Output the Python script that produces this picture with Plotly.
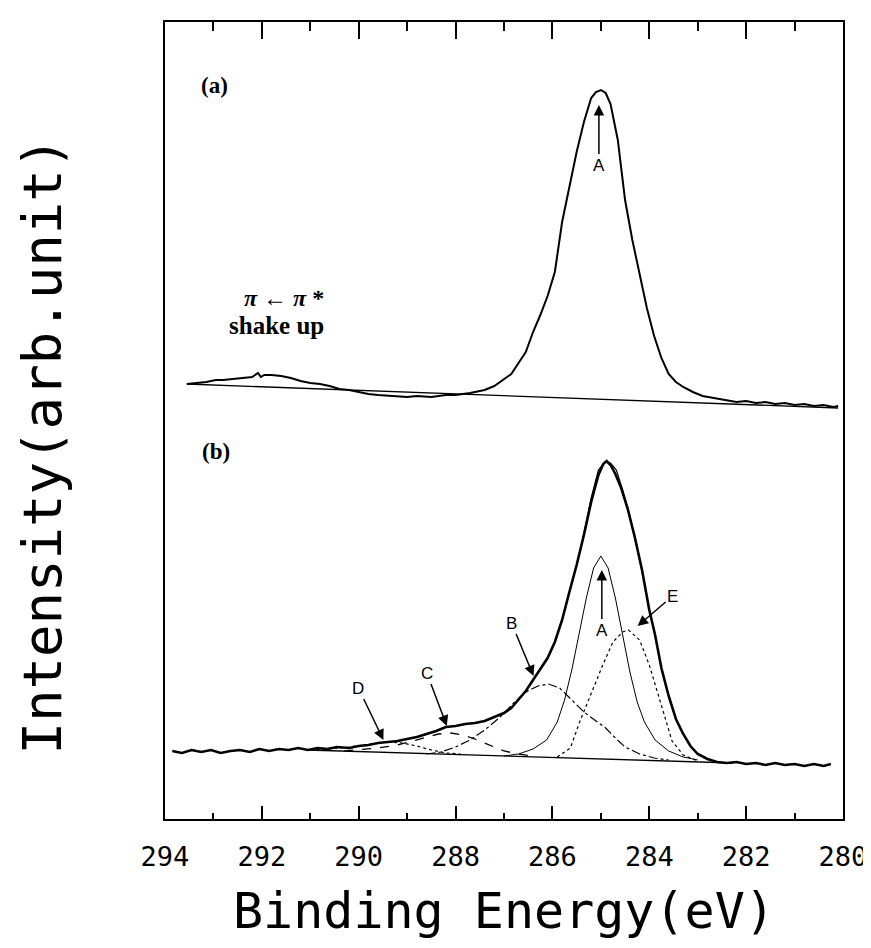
import plotly.graph_objects as go

# ---------------- data ----------------
# x: binding energy (eV); y: intensity (arbitrary units, offset per panel)

# panel (a) measured spectrum
a_energy = [293.55, 293.35, 293.15, 292.95, 292.8, 292.6, 292.4, 292.2, 292.08, 292.02,
            291.95, 291.8, 291.6, 291.4, 291.2, 291.0, 290.8, 290.6, 290.4, 290.2,
            290.0, 289.8, 289.6, 289.3, 289.0, 288.8, 288.5, 288.2, 288.0, 287.7,
            287.4, 287.2, 287.0, 286.85, 286.7, 286.55, 286.4, 286.25, 286.1, 285.95,
            285.8, 285.65, 285.5, 285.35, 285.2, 285.1, 285.0, 284.9, 284.8, 284.65,
            284.5, 284.35, 284.2, 284.05, 283.9, 283.75, 283.6, 283.45, 283.3, 283.1,
            282.9, 282.65, 282.4, 282.2, 282.0, 281.8, 281.6, 281.4, 281.2, 281.0,
            280.8, 280.6, 280.4, 280.2, 280.1]
a_intensity = [436, 437, 438, 440, 440, 441, 442, 443, 447, 443,
               445, 445, 444, 442, 439, 437, 436, 434, 431, 430,
               428, 426, 425, 424, 423, 424, 423, 425, 425, 427,
               430, 434, 441, 446, 457, 468, 488, 505, 524, 548,
               598, 633, 668, 698, 722, 728, 730, 727, 716, 680,
               620, 580, 545, 512, 484, 462, 446, 438, 433, 428,
               424, 422, 420, 418, 419, 417, 418, 416, 417, 415,
               416, 414, 415, 413, 414]
a_base_energy = [293.55, 280.1]
a_base_intensity = [436, 412]

# panel (b) measured spectrum
b_energy = [293.85, 293.65, 293.45, 293.25, 293.05, 292.85, 292.65, 292.45, 292.25, 292.05,
            291.85, 291.65, 291.45, 291.25, 291.05, 290.85, 290.65, 290.45, 290.2, 290.0,
            289.8, 289.6, 289.4, 289.2, 289.0, 288.8, 288.6, 288.4, 288.2, 288.0,
            287.8, 287.6, 287.4, 287.2, 287.0, 286.85, 286.7, 286.55, 286.4, 286.25,
            286.1, 285.95, 285.8, 285.65, 285.5, 285.35, 285.2, 285.05, 284.95, 284.88,
            284.8, 284.7, 284.58, 284.45, 284.3, 284.15, 284.0, 283.88, 283.75, 283.6,
            283.45, 283.3, 283.15, 283.0, 282.8, 282.6, 282.4, 282.2, 282.0, 281.8,
            281.6, 281.4, 281.2, 281.0, 280.8, 280.6, 280.4, 280.25]
b_intensity = [69, 67, 70, 68, 70, 67, 69, 70, 68, 71,
               69, 71, 70, 72, 70, 72, 71, 73, 72, 74,
               75, 77, 78, 79, 81, 83, 86, 89, 93, 94,
               96, 97, 99, 103, 107, 112, 120, 129, 140, 151,
               162, 178, 200, 228, 255, 285, 318, 345, 356, 359,
               355, 346, 332, 312, 283, 250, 210, 185, 152, 124,
               101, 86, 74, 66, 61, 58, 57, 58, 56, 57,
               55, 57, 55, 56, 54, 56, 54, 56]
b_fit_energy = [285.4, 285.2, 285.05, 284.92, 284.8, 284.68, 284.55, 284.4, 284.25]
b_fit_intensity = [275, 322, 350, 358, 357, 350, 330, 303, 272]
b_base_energy = [291.06, 282.27]
b_base_intensity = [70, 57]

# fitted components in panel (b)
compA_energy = [287.0, 286.7, 286.4, 286.12, 285.9, 285.75, 285.6, 285.45, 285.3, 285.15,
                285.0, 284.85, 284.7, 284.55, 284.4, 284.25, 284.1, 283.88, 283.6, 283.3, 283.0]
compA_intensity = [64, 66, 71, 80, 98, 120, 150, 185, 222, 252,
                   264, 252, 222, 185, 148, 118, 98, 80, 69, 63, 60]
compE_energy = [285.9, 285.63, 285.43, 285.2, 284.96, 284.75, 284.55, 284.43, 284.2, 284.0,
                283.73, 283.53, 283.3, 283.0]
compE_intensity = [63, 72, 99, 127, 155, 178, 188, 190, 180, 155,
                   112, 79, 65, 59]
compB_energy = [288.6, 288.3, 288.0, 287.7, 287.4, 287.1, 286.8, 286.55, 286.3, 286.08,
                285.85, 285.6, 285.35, 285.1, 284.9, 284.7, 284.5, 284.2, 283.9, 283.6]
compB_intensity = [66, 68, 73, 80, 90, 102, 117, 128, 134, 136,
                   132, 120, 108, 99, 92, 82, 73, 66, 62, 60]
compC_energy = [290.3, 290.0, 289.6, 289.2, 288.9, 288.6, 288.35, 288.1, 287.85, 287.6,
                287.3, 287.0, 286.7, 286.4]
compC_intensity = [69, 70, 72, 75, 79, 83, 86, 87, 85, 81,
                   75, 69, 66, 64]
compD_energy = [291.0, 290.6, 290.2, 289.8, 289.45, 289.1, 288.8, 288.5, 288.2, 287.9]
compD_intensity = [70, 71, 73, 76, 78, 77, 74, 70, 67, 66]

tick_values = [294, 292, 290, 288, 286, 284, 282, 280]
tick_text = ["294", "292", "290", "288", "286", "284", "282", "280"]
minor_values = [293, 291, 289, 287, 285, 283, 281]

# arrow labels: tip position (energy, intensity) and text offset in px
arrow_labels = ["A", "A", "B", "C", "D", "E"]
arrow_energy = [285.04, 284.98, 286.39, 288.18, 289.49, 284.24]
arrow_intensity = [715, 250, 144, 94, 80, 194]
arrow_dx = [0, 0, -22, -20, -25, 35]
arrow_dy = [60, 60, -53, -53, -52, -30]

# ---------------- figure ----------------
fig = go.Figure()
K = "black"

def add_line(x, y, width, dash="solid", axis="x"):
    fig.add_trace(go.Scatter(x=x, y=y, mode="lines", xaxis=axis,
                             line=dict(color=K, width=width, dash=dash),
                             showlegend=False, hoverinfo="skip"))

add_line(a_base_energy, a_base_intensity, 1.3)
add_line(a_energy, a_intensity, 2.0)

add_line(b_base_energy, b_base_intensity, 1.3)
add_line(compD_energy, compD_intensity, 1.2, "dot")
add_line(compC_energy, compC_intensity, 1.3, "dash")
add_line(compB_energy, compB_intensity, 1.2, "dashdot")
add_line(compA_energy, compA_intensity, 1.0)
add_line(compE_energy, compE_intensity, 1.2, "dot")
add_line(b_fit_energy, b_fit_intensity, 1.2)
add_line(b_energy, b_intensity, 2.6)

# empty trace that carries the top axis (inside ticks along the top frame)
fig.add_trace(go.Scatter(x=[None], y=[None], xaxis="x2", mode="lines",
                         showlegend=False, hoverinfo="skip"))

mono = "DejaVu Sans Mono"
serif = "Liberation Serif, Times New Roman, serif"
sans = "Liberation Sans, Arial, sans-serif"

annotations = []
for lab, ex, iy, dx, dy in zip(arrow_labels, arrow_energy, arrow_intensity, arrow_dx, arrow_dy):
    annotations.append(dict(x=ex, y=iy, xref="x", yref="y", text=lab, showarrow=True,
                            ax=dx, ay=dy, arrowhead=2, arrowsize=1.4, arrowwidth=1.5,
                            arrowcolor=K, standoff=0,
                            font=dict(family=sans, size=17, color=K)))

annotations += [
    dict(x=292.98, y=735, xref="x", yref="y", text="<b>(a)</b>", showarrow=False,
         font=dict(family=serif, size=23, color=K)),
    dict(x=292.94, y=369, xref="x", yref="y", text="<b>(b)</b>", showarrow=False,
         font=dict(family=serif, size=23, color=K)),
    dict(x=291.55, y=522, xref="x", yref="y", text="<b><i>π</i> ← <i>π</i> *</b>",
         showarrow=False, font=dict(family=serif, size=24, color=K)),
    dict(x=291.69, y=495, xref="x", yref="y", text="<b>shake up</b>", showarrow=False,
         font=dict(family=serif, size=25, color=K)),
    dict(x=0.5, y=-0.115, xref="paper", yref="paper", text="Binding Energy(eV)",
         showarrow=False, xanchor="center", yanchor="middle",
         font=dict(family=mono, size=50, color=K)),
    dict(x=-0.181, y=0.469, xref="paper", yref="paper", text="Intensity(arb.unit)",
         showarrow=False, textangle=-90, xanchor="center", yanchor="middle",
         font=dict(family=mono, size=54, color=K)),
]

fig.update_layout(
    width=871, height=948,
    margin=dict(l=157, r=28, t=14, b=137),
    paper_bgcolor="white", plot_bgcolor="white",
    showlegend=False,
    annotations=annotations,
    xaxis=dict(range=[294, 280], showline=True, linecolor=K, linewidth=2, mirror=True,
               ticks="inside", tickvals=tick_values, ticktext=tick_text,
               ticklen=13, tickwidth=1.5, tickcolor=K,
               minor=dict(tickvals=minor_values, ticks="inside", ticklen=6,
                          tickwidth=1.5, tickcolor=K, showgrid=False),
               tickfont=dict(family=mono, size=27, color=K),
               ticklabelstandoff=13, ticklabeloverflow="allow",
               showgrid=False, zeroline=False),
    xaxis2=dict(range=[294, 280], overlaying="x", side="top", anchor="y",
                ticks="inside", tickvals=tick_values, ticklen=17, tickwidth=1.5,
                tickcolor=K, showticklabels=False,
                minor=dict(tickvals=minor_values, ticks="inside", ticklen=9,
                           tickwidth=1.5, tickcolor=K, showgrid=False),
                showline=False, showgrid=False, zeroline=False),
    yaxis=dict(range=[1, 798], showline=True, linecolor=K, linewidth=2, mirror=True,
               showticklabels=False, ticks="", showgrid=False, zeroline=False),
)

fig.write_html("out.html")
